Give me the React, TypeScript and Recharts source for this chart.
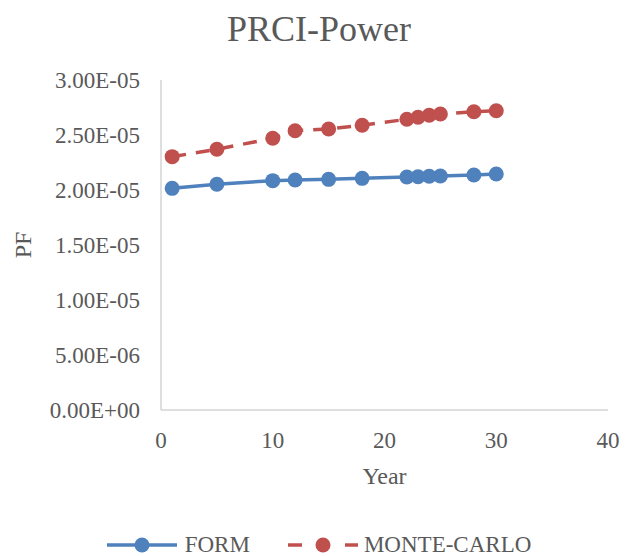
import React from 'react';
import { LineChart, Line, XAxis, YAxis, Legend } from 'recharts';

const years = [1, 5, 10, 12, 15, 18, 22, 23, 24, 25, 28, 30];
const formPf = [
  2.015e-5, 2.052e-5, 2.085e-5, 2.091e-5, 2.097e-5, 2.106e-5, 2.118e-5, 2.121e-5, 2.125e-5, 2.127e-5,
  2.136e-5, 2.145e-5,
];
const monteCarloPf = [
  2.303e-5, 2.37e-5, 2.47e-5, 2.539e-5, 2.555e-5, 2.588e-5, 2.643e-5, 2.661e-5, 2.679e-5, 2.691e-5,
  2.712e-5, 2.721e-5,
];
const xTicks = [0, 10, 20, 30, 40];
const yTicks = [0, 5e-6, 1e-5, 1.5e-5, 2e-5, 2.5e-5, 3e-5];

const chartData = years.map((year, i) => ({
  year,
  form: formPf[i],
  monteCarlo: monteCarloPf[i],
}));

const FONT = '"Liberation Serif", "Times New Roman", serif';
const TEXT_COLOR = '#595959';
const AXIS_COLOR = '#BFBFBF';
const FORM_COLOR = '#4F81BD';
const MC_COLOR = '#C0504D';

// Excel-style scientific notation: 2.50E-05
function sci(value: number) {
  if (value === 0) return '0.00E+00';
  const [mant, exp] = value.toExponential(2).split('e');
  const n = parseInt(exp, 10);
  const sign = n < 0 ? '-' : '+';
  return `${mant}E${sign}${String(Math.abs(n)).padStart(2, '0')}`;
}

function LegendContent() {
  return (
    <div
      style={{
        display: 'flex',
        justifyContent: 'center',
        alignItems: 'center',
        fontFamily: FONT,
        fontSize: 23,
        color: TEXT_COLOR,
      }}
    >
      <svg width={70} height={20}>
        <line x1={0} y1={10} x2={70} y2={10} stroke={FORM_COLOR} strokeWidth={3.5} />
        <circle cx={35} cy={10} r={7.5} fill={FORM_COLOR} />
      </svg>
      <span style={{ marginLeft: 8, marginRight: 38 }}>FORM</span>
      <svg width={70} height={20}>
        <line x1={0} y1={10} x2={14} y2={10} stroke={MC_COLOR} strokeWidth={3.5} />
        <line x1={57} y1={10} x2={70} y2={10} stroke={MC_COLOR} strokeWidth={3.5} />
        <circle cx={35} cy={10} r={7.5} fill={MC_COLOR} />
      </svg>
      <span style={{ marginLeft: 6 }}>MONTE-CARLO</span>
    </div>
  );
}

export default function App() {
  return (
    <div style={{ position: 'absolute', left: 0, top: 0, width: 638, height: 556, background: '#fff' }}>
      <div
        style={{
          position: 'absolute',
          top: 8,
          left: 0,
          width: 638,
          textAlign: 'center',
          fontFamily: FONT,
          fontSize: 36,
          color: TEXT_COLOR,
        }}
      >
        PRCI-Power
      </div>
      <LineChart width={638} height={556} data={chartData} margin={{ top: 80, right: 30, bottom: 66, left: 0 }}>
        <XAxis
          dataKey="year"
          type="number"
          domain={[0, 40]}
          ticks={xTicks}
          tickLine={false}
          tickSize={0}
          tickMargin={22}
          stroke={AXIS_COLOR}
          tick={{ fill: TEXT_COLOR, fontSize: 23, fontFamily: FONT }}
          height={80}
          label={{
            value: 'Year',
            position: 'insideBottom',
            offset: 6,
            fill: TEXT_COLOR,
            fontSize: 24,
            fontFamily: FONT,
          }}
        />
        <YAxis
          type="number"
          domain={[0, 3e-5]}
          ticks={yTicks}
          tickFormatter={sci}
          tickLine={false}
          tickSize={0}
          tickMargin={21}
          stroke={AXIS_COLOR}
          width={161}
          tick={{ fill: TEXT_COLOR, fontSize: 23, fontFamily: FONT }}
          label={({ viewBox }: any) => (
            <text
              x={viewBox.x + 31}
              y={viewBox.y + viewBox.height / 2}
              transform={`rotate(-90 ${viewBox.x + 31} ${viewBox.y + viewBox.height / 2})`}
              textAnchor="middle"
              fill={TEXT_COLOR}
              fontSize={24}
              fontFamily={FONT}
            >
              PF
            </text>
          )}
        />
        <Legend
          verticalAlign="middle"
          align="center"
          layout="horizontal"
          wrapperStyle={{ top: 532, left: 0, width: 638 }}
          content={() => <LegendContent />}
        />
        <Line
          dataKey="form"
          name="FORM"
          type="linear"
          stroke={FORM_COLOR}
          strokeWidth={3.5}
          dot={{ r: 7.5, fill: FORM_COLOR, stroke: 'none' }}
          activeDot={false}
          isAnimationActive={false}
        />
        <Line
          dataKey="monteCarlo"
          name="MONTE-CARLO"
          type="linear"
          stroke={MC_COLOR}
          strokeWidth={3.5}
          strokeDasharray="14 10"
          dot={{ r: 7.5, fill: MC_COLOR, stroke: 'none' }}
          activeDot={false}
          isAnimationActive={false}
        />
      </LineChart>
    </div>
  );
}
